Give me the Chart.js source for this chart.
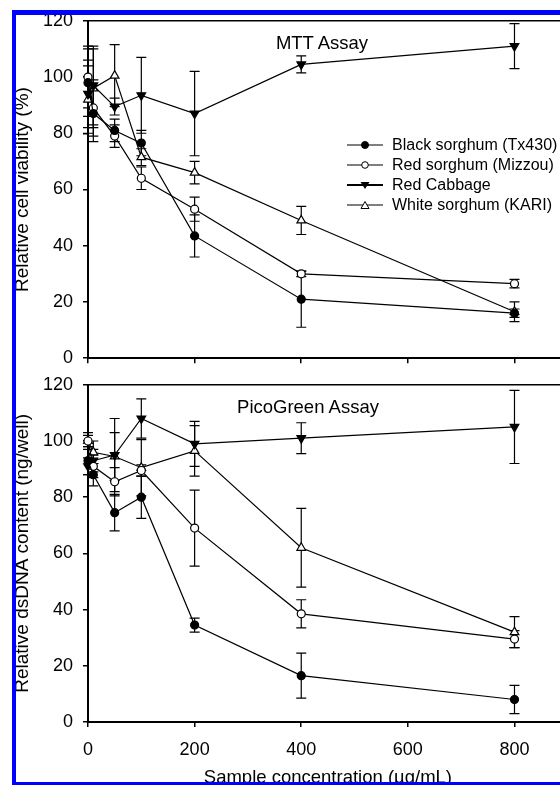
<!DOCTYPE html>
<html>
<head>
<meta charset="utf-8">
<script src="https://cdn.jsdelivr.net/npm/chart.js@4"></script>
<style>
html,body{margin:0;padding:0;background:#fff;overflow:hidden;width:560px;height:785px;}
body{position:relative;font-family:"Liberation Sans",Arial,sans-serif;color:#000;}
.frame{position:absolute;left:12px;top:10px;width:700px;height:777px;box-sizing:border-box;border-top:5px solid #0000ff;border-left:4px solid #0000ff;border-bottom:5px solid #0000ff;z-index:5;pointer-events:none;}
.cv{position:absolute;left:0;width:574px;}
.ptitle{position:absolute;font-size:18.5px;transform:translate(-50%,-50%);white-space:nowrap;}
.legend{position:absolute;left:345px;top:135px;font-size:16px;}
.legend div{height:20px;display:flex;align-items:center;white-space:nowrap;}
.legend svg{width:40px;height:14px;margin-right:7px;}
</style>
</head>
<body>
<div class="frame"></div>
<div class="cv" style="top:0;height:379px;"><canvas id="mtt"></canvas></div>
<div class="cv" style="top:364px;height:426px;"><canvas id="pico"></canvas></div>
<div class="ptitle" style="left:322px;top:43px;">MTT Assay</div>
<div class="ptitle" style="left:308px;top:407px;">PicoGreen Assay</div>
<div class="legend" id="legend"></div>
<script>
const conc=[0,10,50,100,200,400,800];
const seriesNames=['Black sorghum (Tx430)','Red sorghum (Mizzou)','Red Cabbage','White sorghum (KARI)'];

// MTT assay, relative cell viability (%)
const mttBlack=[98,87,81,76.5,43.5,21,16],     mttBlackErr=[12,10,4,4.5,7.5,10,1.5];
const mttRed=[100,89,79,64,53,30,26.5],        mttRedErr=[11,10,4,4,4.3,1,1.5];
const mttCabbage=[94,97,89.5,93.5,87,104.5,111], mttCabbageErr=[12,14,3,13.5,15,3,8];
const mttWhite=[92,96,100.5,71.5,66,49,16.5],  mttWhiteErr=[12,14,11,3,4,5,3.5];

// PicoGreen assay, relative dsDNA content (ng/well)
const pgBlack=[93,88,74.5,80,34.5,16.5,8],     pgBlackErr=[5,4,6.5,7.5,2.5,8,5];
const pgRed=[100,91,85.5,89.5,69,38.5,29.5],   pgRedErr=[3,4,5,2,13.5,5,3];
const pgCabbage=[91,93,95,108,99,101,105],     pgCabbageErr=[3,4,13,7,8,5.5,13];
const pgWhite=[100,96,94.5,90.5,96.5,62,32],   pgWhiteErr=[2,4,8.5,10,9,14,5.5];

const xTicks=[0,200,400,600,800];
const yTicks=[0,20,40,60,80,100,120];

const FONT='"Liberation Sans", Arial, sans-serif';
const styles=[
  {pointStyle:'circle',rotation:0,fill:'#000',r:4},
  {pointStyle:'circle',rotation:0,fill:'#fff',r:4},
  {pointStyle:'triangle',rotation:180,fill:'#000',r:5},
  {pointStyle:'triangle',rotation:0,fill:'#fff',r:5}
];

function makeSets(vals,errs){
  return vals.map((v,k)=>({
    label:seriesNames[k],
    data:conc.map((c,i)=>({x:c,y:v[i]})),
    err:errs[k],
    borderColor:'#000',borderWidth:1.2,
    pointStyle:styles[k].pointStyle,rotation:styles[k].rotation,
    pointBackgroundColor:styles[k].fill,pointBorderColor:'#000',pointBorderWidth:1.2,
    pointRadius:styles[k].r,pointHoverRadius:styles[k].r,
    showLine:true,clip:false,tension:0
  }));
}

const errorBars={
  id:'errorBars',
  beforeDatasetsDraw(chart){
    const {ctx,scales:{x,y}}=chart;
    ctx.save(); ctx.strokeStyle='#000'; ctx.lineWidth=1.2;
    chart.data.datasets.forEach(ds=>{
      ds.data.forEach((p,i)=>{
        const e=ds.err[i], px=x.getPixelForValue(p.x), hi=y.getPixelForValue(p.y+e), lo=y.getPixelForValue(p.y-e);
        ctx.beginPath();
        ctx.moveTo(px,hi); ctx.lineTo(px,lo);
        ctx.moveTo(px-5,hi); ctx.lineTo(px+5,hi);
        ctx.moveTo(px-5,lo); ctx.lineTo(px+5,lo);
        ctx.stroke();
      });
    });
    ctx.restore();
  }
};

const topLine={
  id:'topLine',
  afterDraw(chart){
    const {ctx,chartArea:a}=chart;
    ctx.save(); ctx.strokeStyle='#000'; ctx.lineWidth=1.5;
    ctx.beginPath(); ctx.moveTo(a.left,a.top); ctx.lineTo(a.right+10,a.top); ctx.stroke();
    ctx.restore();
  }
};

function makeChart(id,sets,yTitle,bottom){
  return new Chart(document.getElementById(id),{
    type:'scatter',
    data:{datasets:sets},
    plugins:[errorBars,topLine],
    options:{
      responsive:true,maintainAspectRatio:false,animation:false,
      layout:{padding:{top:bottom?13:20,left:0,right:0,bottom:0}},
      plugins:{legend:{display:false},tooltip:{enabled:false}},
      scales:{
        x:{type:'linear',min:0,max:900,
          afterBuildTicks:s=>{s.ticks=xTicks.map(v=>({value:v}));},
          grid:{drawOnChartArea:false,drawTicks:true,tickLength:5,color:'#000',lineWidth:1.5},
          border:{color:'#000',width:2},
          ticks:{display:bottom,color:'#000',font:{family:FONT,size:18},padding:12,maxRotation:0},
          title:{display:bottom,text:'Sample concentration (µg/mL)',color:'#000',font:{family:FONT,size:18.5},padding:{top:0,bottom:1}},
          afterFit:s=>{s.height=bottom?68:12;}
        },
        y:{min:0,max:120,
          afterBuildTicks:s=>{s.ticks=yTicks.map(v=>({value:v}));},
          grid:{drawOnChartArea:false,drawTicks:true,tickLength:5,color:'#000',lineWidth:1.5},
          border:{color:'#000',width:2},
          ticks:{color:'#000',font:{family:FONT,size:18},padding:10},
          title:{display:true,text:yTitle,color:'#000',font:{family:FONT,size:19},padding:{top:11.5,bottom:0}},
          afterFit:s=>{s.width=88;}
        }
      }
    }
  });
}

makeChart('mtt',makeSets([mttBlack,mttRed,mttCabbage,mttWhite],[mttBlackErr,mttRedErr,mttCabbageErr,mttWhiteErr]),'Relative cell viability (%)',false);
makeChart('pico',makeSets([pgBlack,pgRed,pgCabbage,pgWhite],[pgBlackErr,pgRedErr,pgCabbageErr,pgWhiteErr]),'Relative dsDNA content (ng/well)',true);

// legend
const marks=[
  '<circle cx="20" cy="7" r="3.5" fill="#000" stroke="#000"/>',
  '<circle cx="20" cy="7" r="3.3" fill="#fff" stroke="#000" stroke-width="1"/>',
  '<polygon points="15.5,4 24.5,4 20,11" fill="#000"/>',
  '<polygon points="16,10.5 24,10.5 20,3.5" fill="#fff" stroke="#000" stroke-width="1"/>'
];
document.getElementById('legend').innerHTML=seriesNames.map((n,k)=>
  `<div><svg viewBox="0 0 40 14"><line x1="2" y1="7" x2="38" y2="7" stroke="#000" stroke-width="${k===2?1.8:1.2}"/>${marks[k]}</svg><span>${n}</span></div>`).join('');
</script>
</body>
</html>
